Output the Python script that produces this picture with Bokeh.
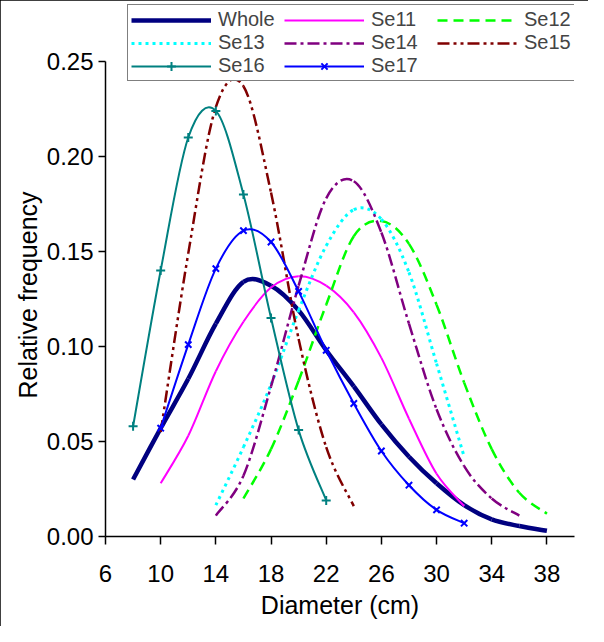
from bokeh.plotting import figure
from bokeh.models import (Range1d, FixedTicker, Legend, LegendItem, Title,
                          NumeralTickFormatter, ColumnDataSource)
from bokeh.embed import file_html
from bokeh.resources import INLINE

# ---------------- data ----------------
x_ticks = [6, 10, 14, 18, 22, 26, 30, 34, 38]
y_ticks = [0.0, 0.05, 0.10, 0.15, 0.20, 0.25]

diam_whole = [8, 10, 12, 14, 16, 18, 20, 22, 24, 26, 28, 30, 32, 34, 36, 38]
freq_whole = [0.030, 0.057, 0.083, 0.112, 0.134, 0.132, 0.119, 0.098, 0.079, 0.059,
              0.042, 0.028, 0.0165, 0.009, 0.0055, 0.003]

diam_se11 = [10, 12, 14, 16, 18, 20, 22, 24, 26, 28, 30, 32]
freq_se11 = [0.028, 0.053, 0.087, 0.113, 0.131, 0.137, 0.132, 0.118, 0.094, 0.062, 0.033, 0.016]

diam_se12 = [16, 18, 20, 22, 24, 26, 28, 30, 32, 34, 36, 38]
freq_se12 = [0.020, 0.046, 0.082, 0.122, 0.158, 0.166, 0.154, 0.122, 0.081, 0.046, 0.023, 0.012]

diam_se13 = [14, 16, 18, 20, 22, 24, 26, 28, 30, 32]
freq_se13 = [0.0165, 0.047, 0.080, 0.119, 0.153, 0.172, 0.167, 0.139, 0.091, 0.042]

diam_se14 = [14, 16, 18, 20, 22, 24, 26, 28, 30, 32, 34, 36]
freq_se14 = [0.011, 0.032, 0.079, 0.132, 0.178, 0.187, 0.160, 0.112, 0.067, 0.037, 0.020, 0.011]

diam_se15 = [10, 12, 14, 16, 18, 20, 22, 24]
freq_se15 = [0.055, 0.149, 0.226, 0.237, 0.181, 0.104, 0.047, 0.016]

diam_se16 = [8, 10, 12, 14, 16, 18, 20, 22]
freq_se16 = [0.058, 0.140, 0.210, 0.224, 0.180, 0.115, 0.056, 0.019]

diam_se17 = [10, 12, 14, 16, 18, 20, 22, 24, 26, 28, 30, 32]
freq_se17 = [0.057, 0.101, 0.141, 0.161, 0.155, 0.129, 0.098, 0.070, 0.045, 0.027, 0.014, 0.007]

x_title = "Diameter (cm)"
y_title = "Relative frequency"

FONT = "Liberation Sans"


def smooth_source(xs, ys):
    """Bezier segments through the data points (Excel-style smoothed line)."""
    n = len(xs)
    d = dict(x0=[], y0=[], x1=[], y1=[], cx0=[], cy0=[], cx1=[], cy1=[])
    for i in range(n - 1):
        a = i - 1 if i > 0 else i
        b = i + 2 if i + 2 < n else i + 1
        d["x0"].append(xs[i]); d["y0"].append(ys[i])
        d["x1"].append(xs[i + 1]); d["y1"].append(ys[i + 1])
        d["cx0"].append(xs[i] + (xs[i + 1] - xs[a]) / 6.0)
        d["cy0"].append(ys[i] + (ys[i + 1] - ys[a]) / 6.0)
        d["cx1"].append(xs[i + 1] - (xs[b] - xs[i]) / 6.0)
        d["cy1"].append(ys[i + 1] - (ys[b] - ys[i]) / 6.0)
    return ColumnDataSource(d)


# the frame reaches up to the top of the legend box; the y axis itself stops at 0.25
p = figure(width=588, height=626, x_range=Range1d(6, 40), y_range=Range1d(0, 0.28),
           title=None, output_backend="svg", toolbar_location=None,
           min_border_left=105, min_border_right=14, min_border_top=4, min_border_bottom=90,
           styles={"outline": "2px solid black", "outline-offset": "-2px"})
p.grid.visible = False
p.outline_line_color = None
p.background_fill_color = "white"
p.border_fill_color = "white"

series = [
    ("Whole", diam_whole, freq_whole, "#000080", 4.5, "solid", None),
    ("Se11", diam_se11, freq_se11, "#FF00FF", 2, "solid", None),
    ("Se12", diam_se12, freq_se12, "#00FF00", 2.5, "10 6", None),
    ("Se13", diam_se13, freq_se13, "#00FFFF", 3, "3 4", None),
    ("Se14", diam_se14, freq_se14, "#800080", 2.5, "12 4 3 4", None),
    ("Se15", diam_se15, freq_se15, "#800000", 2.5, "12 4 3 4 3 4", None),
    ("Se16", diam_se16, freq_se16, "#008080", 2, "solid", "cross"),
    ("Se17", diam_se17, freq_se17, "#0000FF", 2, "solid", "x"),
]

items = []
for name, xs, ys, color, lw, dash, marker in series:
    r = p.bezier(x0="x0", y0="y0", x1="x1", y1="y1", cx0="cx0", cy0="cy0",
                 cx1="cx1", cy1="cy1", source=smooth_source(xs, ys),
                 line_color=color, line_width=lw, line_dash=dash)
    rs = [r]
    if marker is not None:
        m = p.scatter(xs, ys, marker=marker, size=9, line_color=color, line_width=2,
                      fill_color=None)
        rs.append(m)
    items.append(LegendItem(label=name, renderers=rs))

legend = Legend(items=items, orientation="horizontal", ncols=3, location=(22, 455),
                glyph_width=80, glyph_height=22, label_standoff=7, spacing=0,
                padding=3, margin=0, label_width=66, label_height=22,
                label_text_font=FONT, label_text_font_size="20px",
                border_line_color="black", border_line_width=1.5,
                background_fill_color="white", background_fill_alpha=1)
p.add_layout(legend)

for ax in (p.xaxis[0], p.yaxis[0]):
    ax.axis_line_width = 1.5
    ax.axis_line_color = "black"
    ax.major_tick_line_width = 1.5
    ax.major_tick_line_color = "black"
    ax.minor_tick_line_color = None
    ax.major_tick_in = 0
    ax.major_label_text_font = FONT
    ax.major_label_text_font_size = "24px"
    ax.major_label_text_color = "black"
    ax.axis_label_text_font = FONT
    ax.axis_label_text_font_size = "25px"
    ax.axis_label_text_font_style = "normal"
    ax.axis_label_text_color = "black"

p.xaxis.ticker = FixedTicker(ticks=x_ticks)
p.yaxis.ticker = FixedTicker(ticks=y_ticks)
p.yaxis.bounds = (y_ticks[0], y_ticks[-1])
p.yaxis.formatter = NumeralTickFormatter(format="0.00")
p.xaxis.major_tick_out = 8
p.yaxis.major_tick_out = 7
p.xaxis.major_label_standoff = 20
p.yaxis.major_label_standoff = 5
p.xaxis.axis_label = x_title
p.xaxis.axis_label_standoff = 6

# y-axis title centred on the 0 - 0.25 part of the axis, as in the reference
p.add_layout(Title(text=y_title, align="left", offset=138, standoff=4,
                   text_font=FONT, text_font_size="25px", text_font_style="normal",
                   text_color="black"), "left")

open("out.html", "w").write(file_html(p, INLINE))
